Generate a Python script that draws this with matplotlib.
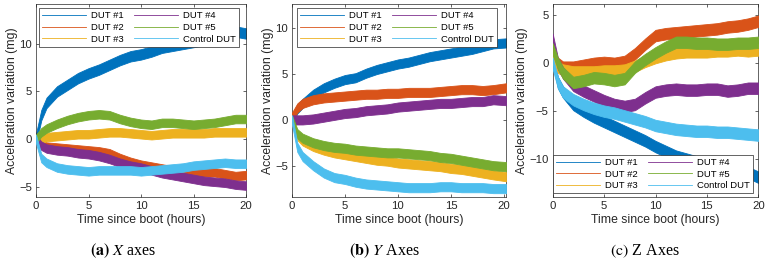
import numpy as np
import matplotlib.pyplot as plt
from matplotlib.lines import Line2D

# time since boot (hours)
t = [0, 0.5, 1, 2, 3, 4, 5, 6, 7, 8, 9, 10, 11, 12, 13, 14, 15, 16, 17, 18, 19, 20]
t_y = [0, 0.5, 1, 2, 3, 4, 5, 6, 7, 8, 9, 10, 11, 12, 13, 14, 15, 16, 17, 18, 19, 20.2]

labels = ['DUT #1', 'DUT #2', 'DUT #3', 'DUT #4', 'DUT #5', 'Control DUT']
colors = ['#0072BD', '#D95319', '#EDB120', '#7E2F8E', '#77AC30', '#4DBEEE']

# X axis (mg)
x_dut1 = [0, 2.5, 3.8, 5.0, 5.7, 6.4, 6.9, 7.3, 7.8, 8.3, 8.7, 8.9, 9.2, 9.6, 9.8, 10.0, 10.2, 10.4, 10.6, 11.0, 11.3, 11.1]
x_dut2 = [0, -0.6, -0.8, -0.9, -1.0, -1.1, -1.2, -1.3, -1.5, -2.0, -2.4, -2.7, -2.9, -3.1, -3.3, -3.4, -3.5, -3.5, -3.5, -3.7, -3.9, -3.8]
x_dut3 = [0, 0.0, 0.2, 0.3, 0.4, 0.5, 0.5, 0.6, 0.7, 0.7, 0.6, 0.5, 0.4, 0.5, 0.6, 0.6, 0.6, 0.6, 0.7, 0.7, 0.7, 0.7]
x_dut4 = [0, -0.7, -1.0, -1.2, -1.3, -1.5, -1.6, -1.8, -2.1, -2.5, -2.8, -3.0, -3.3, -3.6, -3.8, -4.0, -4.2, -4.4, -4.5, -4.6, -4.8, -4.9]
x_dut5 = [0, 0.7, 1.1, 1.6, 2.0, 2.3, 2.5, 2.6, 2.5, 2.1, 1.8, 1.6, 1.5, 1.7, 1.7, 1.6, 1.5, 1.6, 1.7, 1.9, 2.1, 2.1]
x_ctrl = [0, -2.0, -2.5, -3.0, -3.2, -3.3, -3.4, -3.3, -3.3, -3.3, -3.3, -3.4, -3.3, -3.2, -3.1, -3.0, -2.8, -2.7, -2.6, -2.5, -2.6, -2.6]
x_noise = [0.55, 0.45, 0.45, 0.45, 0.45, 0.45]

# Y axis (mg)
y_dut1 = [0, 1.2, 1.8, 2.8, 3.5, 4.0, 4.4, 4.6, 5.1, 5.5, 5.8, 6.1, 6.3, 6.6, 6.9, 7.1, 7.3, 7.5, 7.7, 8.0, 8.3, 8.4]
y_dut2 = [0.3, 1.3, 1.8, 2.2, 2.4, 2.5, 2.6, 2.7, 2.8, 2.8, 2.9, 2.9, 3.0, 3.0, 3.0, 3.1, 3.2, 3.3, 3.3, 3.2, 3.3, 3.5]
y_dut3 = [0, -1.7, -2.3, -2.9, -3.3, -3.6, -3.8, -4.0, -4.2, -4.4, -4.5, -4.7, -4.8, -4.9, -5.0, -5.1, -5.3, -5.4, -5.6, -5.8, -6.0, -6.2]
y_dut4 = [0, 0.0, 0.0, 0.1, 0.3, 0.5, 0.7, 0.8, 1.0, 1.1, 1.2, 1.4, 1.5, 1.6, 1.7, 1.8, 1.8, 1.9, 2.0, 2.0, 2.2, 2.1]
y_dut5 = [0, -1.5, -2.0, -2.5, -2.8, -3.0, -3.1, -3.3, -3.4, -3.5, -3.6, -3.6, -3.7, -3.8, -3.9, -4.1, -4.2, -4.4, -4.6, -4.8, -5.0, -5.1]
y_ctrl = [0, -3.0, -4.0, -5.0, -5.8, -6.3, -6.5, -6.8, -7.0, -7.1, -7.2, -7.3, -7.4, -7.4, -7.4, -7.3, -7.3, -7.4, -7.4, -7.4, -7.5, -7.5]
y_noise = [0.5, 0.5, 0.5, 0.5, 0.5, 0.5]

# Z axis (mg)
z_dut1 = [0.5, -2.0, -3.0, -4.3, -5.0, -5.6, -6.1, -6.6, -7.1, -7.6, -8.1, -8.7, -9.2, -9.7, -10.0, -10.3, -10.5, -10.7, -10.8, -11.1, -11.4, -11.9]
z_dut2 = [1.0, 0.0, -0.4, -0.4, -0.2, 0.0, 0.1, 0.0, 0.2, 1.0, 2.0, 2.9, 3.1, 3.2, 3.3, 3.4, 3.5, 3.6, 3.8, 3.9, 4.1, 4.4]
z_dut3 = [0.5, -0.4, -0.7, -0.9, -0.9, -0.9, -0.8, -0.8, -0.7, -0.3, 0.2, 0.6, 0.9, 1.1, 1.2, 1.2, 1.2, 1.3, 1.3, 1.4, 1.3, 1.4]
z_dut4 = [2.5, 0.0, -1.0, -2.3, -2.9, -3.4, -3.9, -4.3, -4.5, -4.3, -3.6, -3.0, -2.8, -2.7, -2.8, -2.8, -2.7, -2.7, -2.9, -2.8, -2.6, -2.6]
z_dut5 = [1.5, 0.0, -1.0, -2.0, -1.8, -1.5, -1.6, -1.8, -1.6, -0.4, 0.4, 1.1, 1.7, 2.2, 2.2, 2.1, 2.1, 2.0, 2.0, 2.1, 2.1, 2.2]
z_ctrl = [0.0, -2.0, -3.0, -3.8, -4.3, -4.7, -5.0, -5.2, -5.5, -5.8, -6.1, -6.5, -6.7, -6.9, -7.0, -7.1, -7.1, -7.2, -7.2, -7.3, -7.4, -7.5]
z_noise = [0.6, 0.6, 0.6, 0.6, 0.6, 0.6]

captions = [r'$\mathbf{(a)}$ $\mathit{X}$ axes', r'$\mathbf{(b)}$ $\mathit{Y}$ Axes', r'$\mathrm{(c)}$ Z Axes']

plt.rcParams['font.family'] = 'Liberation Sans'
plt.rcParams['mathtext.fontset'] = 'stix'

W, H = 767, 262
fig = plt.figure(figsize=(W / 100, H / 100), dpi=100)

panels = [
  (t, [x_dut1, x_dut2, x_dut3, x_dut4, x_dut5, x_ctrl], x_noise, (0, 20), (-6.1, 14.2), [-5, 0, 5, 10],
   [36, 4, 246, 197], (39.3, 8.3), 123),
  (t_y, [y_dut1, y_dut2, y_dut3, y_dut4, y_dut5, y_ctrl], y_noise, (0, 20.2), (-8.45, 12.65), [-5, 0, 5, 10],
   [292, 4, 506, 197.3], (297.3, 8.3), 384),
  (t, [z_dut1, z_dut2, z_dut3, z_dut4, z_dut5, z_ctrl], z_noise, (0, 20), (-14, 6.2), [-10, -5, 0, 5],
   [552.7, 4, 758.3, 197.3], (553.3, 155), 645),
]

for i, (tt, series, noise, xl, yl, yt, box, leg_pos, cap_x) in enumerate(panels):
  l, tp, r, b = box
  ax = fig.add_axes([l / W, 1 - b / H, (r - l) / W, (b - tp) / H])
  tt = np.array(tt)
  for k, ys in enumerate(series):
    ys = np.array(ys)
    ax.fill_between(tt, ys - noise[k], ys + noise[k], color=colors[k], lw=0.6, zorder=2 + k)
  ax.set_xlim(*xl)
  ax.set_ylim(*yl)
  ax.set_xticks([0, 5, 10, 15, 20])
  ax.set_yticks(yt)
  ax.tick_params(direction='in', length=2.5, width=0.5, labelsize=8.2, top=True, right=True,
                 colors='#262626', pad=3)
  for s in ax.spines.values():
    s.set_linewidth(0.5)
    s.set_color('#262626')
  ax.set_xlabel('Time since boot (hours)', fontsize=8.8, color='#262626', labelpad=2)
  ax.set_ylabel('Acceleration variation (mg)', fontsize=8.8, color='#262626', labelpad=1)
  handles = [Line2D([], [], color=c, lw=0.6) for c in colors]
  leg = ax.legend(handles, labels, ncol=2, loc='upper left', fontsize=6.8,
                  bbox_to_anchor=(leg_pos[0] / W, 1 - leg_pos[1] / H), bbox_transform=fig.transFigure,
                  borderaxespad=0, fancybox=False, framealpha=1, edgecolor='#262626',
                  handlelength=4.6, handletextpad=0.6, columnspacing=1.1,
                  labelspacing=0.3, borderpad=0.3)
  leg.get_frame().set_linewidth(0.5)
  leg.set_zorder(20)
  fig.text(cap_x / W, 1 - 251 / H, captions[i], ha='center', va='center', fontsize=11.5,
           family='Liberation Serif')

fig.savefig('out.png', dpi=100)
